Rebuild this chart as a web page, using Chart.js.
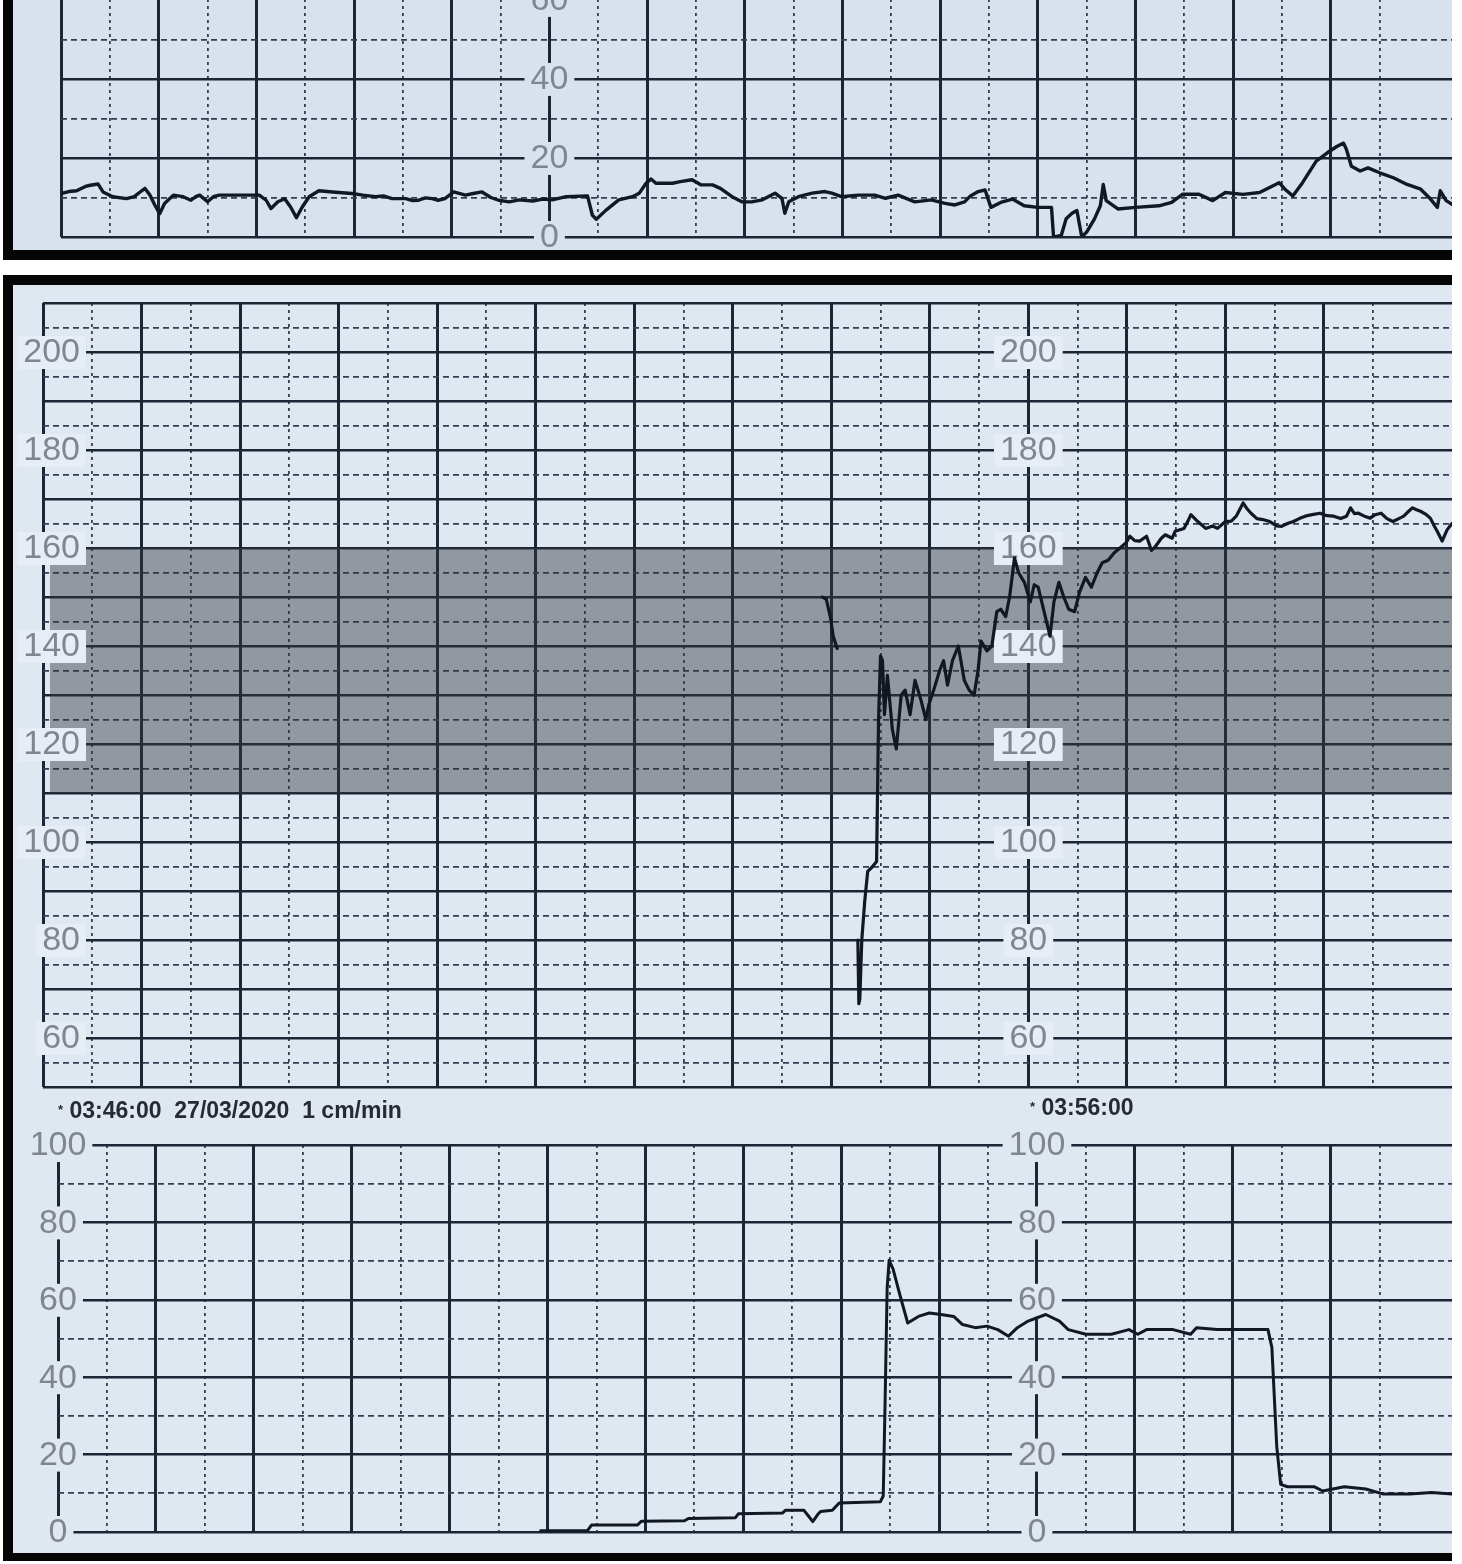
<!DOCTYPE html>
<html>
<head>
<meta charset="utf-8">
<script src="https://cdn.jsdelivr.net/npm/chart.js@4.4.1/dist/chart.umd.min.js"></script>
<style>
html, body { margin: 0; padding: 0; background: #fff; }
#page { position: relative; width: 1462px; height: 1564px; overflow: hidden; background: #fff; font-family: "Liberation Sans", Arial, sans-serif; }
.sheet { position: absolute; box-sizing: border-box; border-style: solid; border-color: #060606; }
#sheetTop { left: 3px; top: 0; width: 1449px; height: 260px; border-width: 0 0 10px 10px; background: #d7e2ee; }
#sheetMain { left: 3px; top: 275px; width: 1449px; height: 1286px; border-width: 10px 0 8px 10px; background: #dfe7f1; }
canvas { position: absolute; }
#cTop { left: 13px; top: -40px; }
#cFhr { left: 13px; top: 285px; }
#cUa { left: 13px; top: 1118px; }
.stamp { position: absolute; font-weight: bold; font-size: 23px; line-height: 24px; color: #262b33; white-space: pre; }
.stamp small { font-size: 13px; vertical-align: top; }
</style>
</head>
<body>
<div id="page">
  <div class="sheet" id="sheetTop"></div>
  <div class="sheet" id="sheetMain"></div>
  <canvas id="cTop" width="1439" height="290"></canvas>
  <canvas id="cFhr" width="1439" height="820"></canvas>
  <canvas id="cUa" width="1439" height="432"></canvas>
  <div class="stamp" style="left:58px;top:1098px;"><small>*</small> 03:46:00  27/03/2020  1 cm/min</div>
  <div class="stamp" style="left:1030px;top:1095px;"><small>*</small> 03:56:00</div>
</div>
<script>
// top strip (previous page), minutes from its left edge
const topMinutes = [
  0, 0.08, 0.16, 0.25, 0.30, 0.38, 0.43, 0.53, 0.67, 0.75,
  0.80, 0.86, 0.91, 0.96, 1.01, 1.06, 1.15, 1.25, 1.33, 1.38,
  1.42, 1.50, 1.56, 1.62, 1.83, 2.03, 2.10, 2.15, 2.22, 2.29,
  2.35, 2.41, 2.47, 2.54, 2.64, 2.78, 2.98, 3.09, 3.22, 3.30,
  3.39, 3.53, 3.60, 3.66, 3.73, 3.80, 3.86, 3.93, 4.02, 4.14,
  4.22, 4.31, 4.40, 4.48, 4.59, 4.69, 4.83, 4.93, 5.03, 5.17,
  5.39, 5.44, 5.48, 5.58, 5.71, 5.85, 5.92, 5.99, 6.04, 6.09,
  6.26, 6.34, 6.46, 6.55, 6.67, 6.75, 6.87, 6.97, 7.07, 7.18,
  7.31, 7.38, 7.41, 7.45, 7.55, 7.69, 7.82, 7.89, 7.99, 8.16,
  8.33, 8.44, 8.57, 8.74, 8.91, 9.05, 9.15, 9.25, 9.31, 9.39,
  9.46, 9.52, 9.62, 9.74, 9.86, 10.00, 10.14, 10.16, 10.17, 10.24,
  10.29, 10.35, 10.40, 10.45, 10.50, 10.58, 10.64, 10.67, 10.70, 10.82,
  11.00, 11.24, 11.37, 11.48, 11.65, 11.79, 11.92, 12.10, 12.27, 12.47,
  12.53, 12.61, 12.71, 12.85, 12.96, 13.06, 13.13, 13.16, 13.21, 13.30,
  13.38, 13.50, 13.64, 13.78, 13.92, 14.02, 14.09, 14.12, 14.18, 14.24
];
const topValues = [
  11, 11.5, 11.7, 12.8, 13.1, 13.4, 11.4, 10.2, 9.7, 10.2,
  11.2, 12.3, 10.6, 8.1, 5.9, 8.5, 10.6, 10.2, 9.3, 10.2,
  10.6, 8.9, 10.2, 10.6, 10.6, 10.6, 9.3, 7.2, 8.9, 9.7,
  7.6, 4.9, 7.6, 10.2, 11.7, 11.4, 11.0, 10.6, 10.2, 10.4,
  9.7, 9.7, 9.2, 9.3, 9.9, 9.7, 9.3, 9.7, 11.4, 10.6,
  11, 11.4, 10, 9.3, 8.9, 9.4, 9.1, 9.6, 9.4, 10.2,
  10.4, 5.5, 4.5, 6.8, 9.4, 10.2, 11.1, 13.6, 14.7, 13.6,
  13.6, 14.0, 14.5, 13.2, 13.2, 12.3, 10.2, 8.9, 8.9, 9.4,
  11.1, 9.8, 6.0, 8.9, 10.2, 11.1, 11.5, 11.1, 10.2, 10.6,
  10.6, 9.8, 10.6, 8.9, 9.4, 8.5, 8.1, 8.9, 10.4, 11.5,
  11.9, 7.5, 8.75, 9.6, 7.9, 7.5, 7.5, 0.3, 0, 0.4,
  4.6, 6, 6.7, 0, 1.25, 4.6, 7.9, 13.3, 9.2, 7.1,
  7.5, 7.9, 8.75, 10.8, 10.8, 9.2, 11.25, 10.8, 11.25, 13.75,
  12.1, 10.4, 13.75, 19.2, 21.25, 22.9, 23.75, 22.1, 17.9, 16.7,
  17.5, 16.25, 15, 13.3, 12.1, 9.6, 7.5, 11.7, 9.2, 8.3
];

// fetal heart rate, minutes from 03:46:00 (null = signal loss)
const fhrMinutes = [
  7.91, 7.95, 7.99, 8.02, 8.06, 8.16, 8.27, 8.28, 8.29, 8.31,
  8.34, 8.37, 8.42, 8.46, 8.48, 8.50, 8.52, 8.54, 8.57, 8.62,
  8.66, 8.71, 8.75, 8.80, 8.85, 8.91, 8.96, 8.99, 9.04, 9.10,
  9.14, 9.18, 9.23, 9.29, 9.35, 9.40, 9.45, 9.49, 9.52, 9.58,
  9.63, 9.68, 9.72, 9.77, 9.81, 9.86, 9.90, 9.96, 10.02, 10.06,
  10.10, 10.16, 10.22, 10.26, 10.31, 10.36, 10.41, 10.47, 10.52, 10.58,
  10.64, 10.70, 10.75, 10.81, 10.87, 10.93, 10.99, 11.03, 11.08, 11.13,
  11.20, 11.25, 11.29, 11.35, 11.39, 11.46, 11.49, 11.58, 11.62, 11.65,
  11.72, 11.80, 11.87, 11.92, 12.00, 12.06, 12.11, 12.18, 12.22, 12.26,
  12.32, 12.38, 12.45, 12.52, 12.57, 12.63, 12.69, 12.75, 12.81, 12.88,
  12.96, 13.03, 13.10, 13.17, 13.23, 13.27, 13.31, 13.35, 13.41, 13.47,
  13.52, 13.58, 13.64, 13.70, 13.76, 13.81, 13.86, 13.90, 13.94, 13.98,
  14.04, 14.08, 14.12, 14.15, 14.20, 14.25, 14.30
];
const fhrBpm = [
  150, 149.5, 146, 142, 139.5, null, 80, 67, 68, 80,
  88, 94, 95, 96, 125, 138, 137, 126, 134, 123,
  119, 130, 131, 126, 133, 129, 125, 128, 131, 135,
  137, 132, 137, 140, 133, 131, 130, 135, 141, 139,
  140, 147, 147.5, 146, 150, 158, 155, 153, 149, 152.5,
  152, 147, 142, 149, 153, 150, 147.5, 147, 151, 154,
  152, 155, 157, 157.5, 159, 160, 161, 162.4, 161.5, 161.4,
  162.4, 159.5, 160.3, 162, 162.7, 162, 163.4, 164, 165.5, 166.8,
  165.4, 164, 164.5, 164, 165.4, 165.5, 166.5, 169.2, 168, 167.1,
  166, 165.8, 165.4, 164.5, 164.4, 165, 165.4, 166, 166.5, 166.8,
  167.1, 166.6, 166.5, 166, 166.5, 168.2, 167, 167.1, 166.5, 166.1,
  166.8, 167.1, 166, 165.4, 166, 166.5, 167.5, 168.2, 167.8, 167.5,
  166.8, 166.1, 164.5, 163.4, 161.4, 163.7, 165
];
const fhrNormalBand = [110, 160];
const fhrBandStart = 0.07;

// uterine activity, minutes from 03:46:00
const uaMinutes = [
  4.93, 5.41, 5.45, 5.92, 5.96, 6.40, 6.44, 6.92, 6.95, 7.40,
  7.43, 7.62, 7.67, 7.71, 7.76, 7.79, 7.91, 7.98, 8.40, 8.43,
  8.45, 8.47, 8.49, 8.53, 8.60, 8.68, 8.79, 8.90, 9.02, 9.15,
  9.24, 9.37, 9.49, 9.60, 9.71, 9.80, 9.91, 10.09, 10.23, 10.32,
  10.50, 10.76, 10.94, 11.03, 11.12, 11.39, 11.57, 11.63, 11.84, 12.11,
  12.36, 12.40, 12.45, 12.49, 12.56, 12.83, 12.92, 13.14, 13.36, 13.54,
  13.81, 14.03, 14.24
];
const uaValues = [
  0.3, 0.4, 1.8, 1.8, 2.8, 2.9, 3.5, 3.7, 4.7, 4.9,
  5.6, 5.6, 4, 2.7, 4.5, 5.3, 5.6, 7.5, 7.8, 9.3,
  35, 63, 70.2, 68, 61.3, 54, 55.7, 56.6, 56.2, 55.7,
  53.6, 52.8, 53.2, 52.3, 50.6, 52.8, 54.5, 56.2, 54.5, 52.3,
  51.1, 51.1, 52.3, 51.1, 52.3, 52.3, 51.1, 52.8, 52.3, 52.3,
  52.3, 47.7, 22, 12.3, 11.7, 11.7, 10.6, 11.7, 11.1, 9.8,
  9.8, 10.2, 9.8
];

// printed scale numbers
const topTickLabels = [0, 20, 40, 60];
const fhrTickLabels = [60, 80, 100, 120, 140, 160, 180, 200];
const uaTickLabels = [0, 20, 40, 60, 80, 100];

const MAJOR = 'rgb(28,37,52)';
const MINOR = 'rgb(52,62,80)';
const INK = '#121823';
const LABEL_GRAY = '#80868f';

const onStep = (v, s) => Math.abs(v / s - Math.round(v / s)) < 1e-6;
const pts = (xs, ys) => xs.map((x, i) => ({x, y: ys[i]}));

function gridScale(min, max, step, majorStep, minorDash, majorW, minorW) {
  return {
    type: 'linear', min, max,
    ticks: {display: false, stepSize: step, maxTicksLimit: 200},
    grid: {
      drawTicks: false,
      color: c => !c.tick || !onStep(c.tick.value, step) ? 'transparent'
        : (onStep(c.tick.value, majorStep) ? MAJOR : MINOR),
      lineWidth: c => c.tick && onStep(c.tick.value, majorStep) ? majorW : minorW
    },
    border: {display: false, dash: c => c.tick && !onStep(c.tick.value, majorStep) ? minorDash : []}
  };
}

// numbers printed on the paper, with a paper coloured box behind them
function paperLabels(values, columns, backdrop) {
  return {
    id: 'paperLabels',
    beforeDatasetDraw(chart, args) {
      if (args.index !== 0) return;
      const {ctx, scales: {x, y}} = chart;
      ctx.save();
      ctx.font = '34px "Liberation Sans", Arial, sans-serif';
      ctx.textBaseline = 'middle';
      columns.forEach(col => {
        const cx = x.getPixelForValue(col.minute) + (col.shift || 0);
        values.forEach(v => {
          const cy = y.getPixelForValue(v);
          const t = String(v);
          const w = ctx.measureText(t).width;
          const left = col.align === 'right' ? cx - w : cx - w / 2;
          ctx.fillStyle = backdrop;
          ctx.fillRect(left - 6, cy - 16, w + 12, 33);
          ctx.fillStyle = LABEL_GRAY;
          ctx.fillText(t, left, cy + 1);
        });
      });
      ctx.restore();
    }
  };
}

function makeChart(id, cfg) {
  return new Chart(document.getElementById(id), {
    type: 'line',
    data: {datasets: cfg.datasets},
    options: {
      responsive: false, animation: false, devicePixelRatio: 1, events: [],
      layout: {padding: cfg.padding},
      elements: {point: {radius: 0}, line: {tension: 0, borderJoinStyle: 'round', borderCapStyle: 'round'}},
      plugins: {legend: {display: false}, tooltip: {enabled: false}},
      scales: {x: cfg.x, y: cfg.y}
    },
    plugins: [cfg.labels]
  });
}

makeChart('cTop', {
  padding: {left: 48, top: 32, right: 0, bottom: 13},
  datasets: [{data: pts(topMinutes, topValues), borderColor: INK, borderWidth: 3.4}],
  x: gridScale(0, 14.24, 0.5, 1, [3, 4], 3, 1.8),
  y: gridScale(0, 62, 10, 20, [6, 4], 2.6, 1.8),
  labels: paperLabels(topTickLabels, [{minute: 5}], '#d7e2ee')
});

makeChart('cFhr', {
  padding: {left: 30, top: 18, right: 0, bottom: 18},
  datasets: [
    {data: pts(fhrMinutes, fhrBpm), borderColor: INK, borderWidth: 3.2, spanGaps: false},
    {data: [{x: fhrBandStart, y: fhrNormalBand[1]}, {x: 14.3, y: fhrNormalBand[1]}], borderWidth: 0,
     fill: {value: fhrNormalBand[0]}, backgroundColor: 'rgba(50,55,62,0.45)'}
  ],
  x: gridScale(0, 14.3, 0.5, 1, [3, 4], 3, 1.8),
  y: gridScale(50, 210, 5, 10, [6, 4], 2.6, 1.8),
  labels: paperLabels(fhrTickLabels, [{minute: 0, align: 'right', shift: 37}, {minute: 10}], '#e6edf5')
});

makeChart('cUa', {
  padding: {left: 45, top: 27, right: 0, bottom: 18},
  datasets: [{data: pts(uaMinutes, uaValues), borderColor: INK, borderWidth: 3}],
  x: gridScale(0, 14.24, 0.5, 1, [3, 4], 3, 1.8),
  y: gridScale(0, 100, 10, 20, [6, 4], 2.6, 1.8),
  labels: paperLabels(uaTickLabels, [{minute: 0}, {minute: 10}], '#dfe7f1')
});
</script>
</body>
</html>
